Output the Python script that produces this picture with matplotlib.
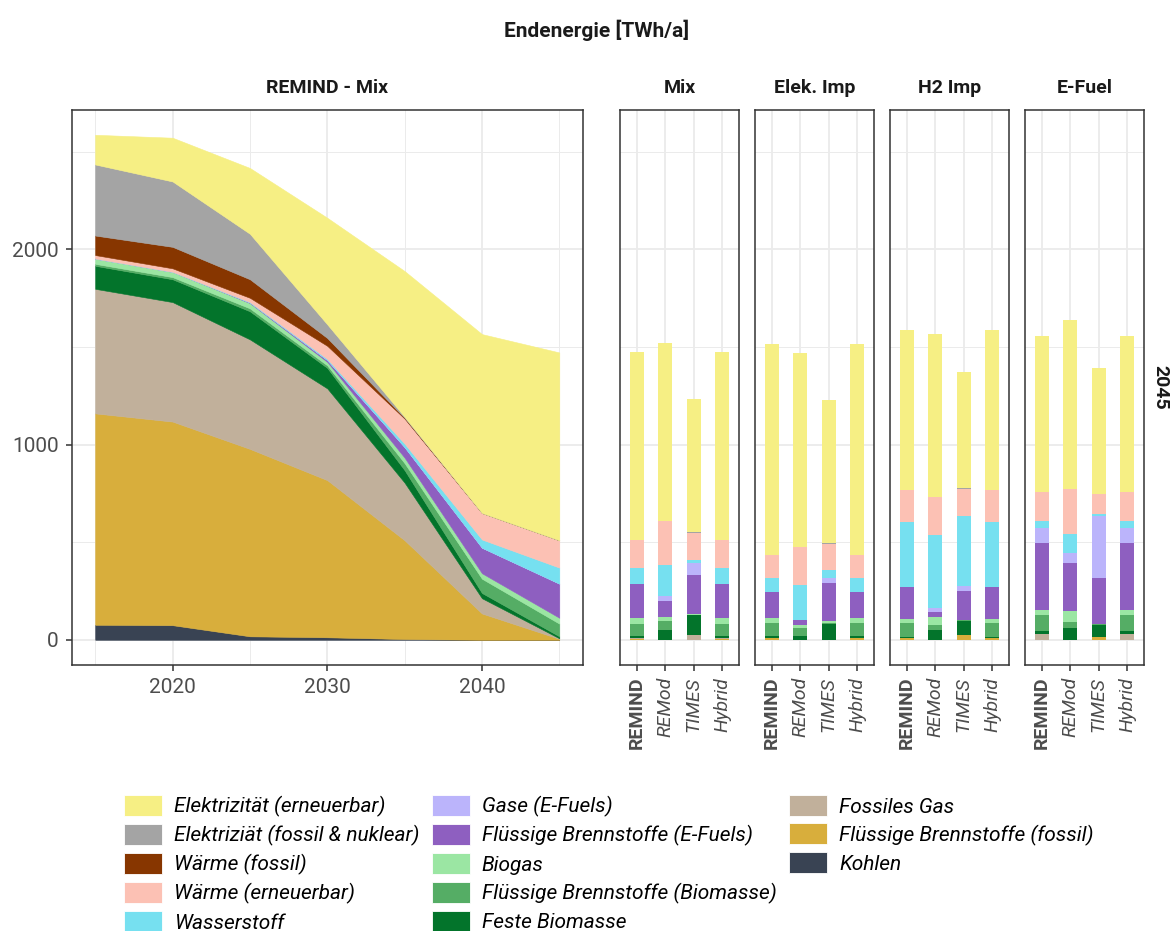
import matplotlib
matplotlib.use("Agg")
import matplotlib.pyplot as plt
from matplotlib.patches import Patch
from matplotlib.ticker import FixedLocator

plt.rcParams['font.family'] = ['Roboto', 'DejaVu Sans']

# -----------------------------
# Data
# -----------------------------
years = [2015, 2020, 2025, 2030, 2035, 2040, 2045]

# categories from bottom of the stack to the top
categories = [
    "Kohlen",
    "Flüssige Brennstoffe (fossil)",
    "Fossiles Gas",
    "Feste Biomasse",
    "Flüssige Brennstoffe (Biomasse)",
    "Biogas",
    "Flüssige Brennstoffe (E-Fuels)",
    "Gase (E-Fuels)",
    "Wasserstoff",
    "Wärme (erneuerbar)",
    "Wärme (fossil)",
    "Elektriziät (fossil & nuklear)",
    "Elektrizität (erneuerbar)",
]

colors = [
    "#394353", "#D8AE3C", "#C1B09B", "#03742B", "#55AD65", "#9BE6A3",
    "#8E5FC0", "#BBB4FB", "#76E0F0", "#FCC1B4", "#873600", "#A4A4A4",
    "#F6EF84",
]

# REMIND - Mix time series [TWh/a]
kohlen = [77, 75, 18, 13, 4, 0, 0]
fluessig_fossil = [1083, 1043, 960, 805, 506, 135, 5]
fossiles_gas = [638, 612, 561, 470, 295, 78, 3]
feste_biomasse = [118, 117, 144, 105, 64, 27, 10]
fluessig_biomasse = [10, 11, 15, 13, 36, 73, 65]
biogas = [27, 27, 27, 18, 28, 28, 30]
fluessig_efuels = [0, 0, 3, 9, 54, 131, 175]
gase_efuels = [0, 0, 0, 0, 0, 0, 0]
wasserstoff = [0, 0, 2, 6, 18, 42, 82]
waerme_erneuerbar = [18, 18, 22, 67, 128, 136, 140]
waerme_fossil = [100, 110, 95, 40, 4, 0, 0]
elek_fossil = [364, 335, 233, 70, 5, 0, 0]
elek_erneuerbar = [152, 224, 337, 546, 747, 916, 962]

# 2045 comparison, rows follow `categories`, columns follow `models`
models = ["REMIND", "REMod", "TIMES", "Hybrid"]
scenarios = ["Mix", "Elek. Imp", "H2 Imp", "E-Fuel"]

bars_mix = [
    [0, 0, 0, 0],
    [5, 0, 0, 5],
    [3, 0, 27, 3],
    [10, 48, 99, 10],
    [65, 46, 0, 65],
    [30, 22, 5, 30],
    [175, 85, 199, 175],
    [0, 25, 63, 0],
    [82, 158, 15, 82],
    [140, 225, 141, 140],
    [0, 0, 0, 0],
    [0, 0, 4, 0],
    [962, 911, 683, 962],
]

bars_elek_imp = [
    [0, 0, 0, 0],
    [10, 0, 0, 10],
    [0, 0, 0, 0],
    [7, 19, 80, 7],
    [70, 39, 8, 70],
    [24, 20, 6, 24],
    [136, 21, 199, 136],
    [0, 5, 22, 0],
    [68, 178, 42, 68],
    [120, 191, 136, 120],
    [0, 0, 0, 0],
    [0, 0, 4, 0],
    [1082, 995, 729, 1082],
]

bars_h2_imp = [
    [0, 0, 0, 0],
    [8, 0, 27, 8],
    [0, 0, 0, 0],
    [8, 49, 67, 8],
    [68, 29, 8, 68],
    [24, 38, 0, 24],
    [161, 25, 146, 161],
    [0, 22, 29, 0],
    [332, 374, 357, 332],
    [167, 196, 140, 167],
    [0, 0, 0, 0],
    [0, 0, 5, 0],
    [820, 835, 595, 820],
]

bars_efuel = [
    [0, 0, 0, 0],
    [0, 0, 12, 0],
    [30, 0, 0, 30],
    [17, 61, 62, 17],
    [81, 29, 8, 81],
    [25, 56, 0, 25],
    [345, 247, 235, 345],
    [75, 54, 316, 75],
    [34, 96, 12, 34],
    [150, 231, 104, 150],
    [0, 0, 0, 0],
    [0, 0, 0, 0],
    [799, 865, 642, 799],
]

area_layers = [
    kohlen, fluessig_fossil, fossiles_gas, feste_biomasse,
    fluessig_biomasse, biogas, fluessig_efuels, gase_efuels,
    wasserstoff, waerme_erneuerbar, waerme_fossil, elek_fossil,
    elek_erneuerbar,
]
bar_tables = [bars_mix, bars_elek_imp, bars_h2_imp, bars_efuel]

# -----------------------------
# Layout
# -----------------------------
W, H = 1175, 931
ylim = (-129, 2714)
grid_col = "#EBEBEB"
frame_col = "#333333"
tick_col = "#4D4D4D"
strip_size = 14


def px_box(x0, x1, y0=110, y1=665):
    return [x0 / W, 1 - y1 / H, (x1 - x0) / W, (y1 - y0) / H]


def style_panel(ax):
    ax.set_ylim(*ylim)
    ax.set_axisbelow(True)
    ax.yaxis.set_major_locator(FixedLocator([0, 1000, 2000]))
    ax.yaxis.set_minor_locator(FixedLocator([500, 1500, 2500]))
    ax.grid(which="major", color=grid_col, linewidth=1.3)
    ax.grid(which="minor", color=grid_col, linewidth=0.7)
    for s in ax.spines.values():
        s.set_color(frame_col)
        s.set_linewidth(1.1)
    ax.tick_params(which="major", length=4.5, width=1.1, color=frame_col,
                   labelcolor=tick_col, labelsize=15, pad=5)
    ax.tick_params(which="minor", length=0)


fig = plt.figure(figsize=(W / 100, H / 100), dpi=100)

# -----------------------------
# REMIND - Mix area chart
# -----------------------------
ax = fig.add_axes(px_box(72, 582.5))
polys = ax.stackplot(years, *area_layers, colors=colors)
for p, c in zip(polys, colors):
    p.set_edgecolor(c)
    p.set_linewidth(0.4)
ax.set_xlim(2013.5, 2046.5)
ax.xaxis.set_major_locator(FixedLocator([2020, 2030, 2040]))
ax.xaxis.set_minor_locator(FixedLocator([2015, 2025, 2035, 2045]))
style_panel(ax)
ax.text(0.5, 1 + 22 / 555, "REMIND - Mix", transform=ax.transAxes,
        ha="center", va="center", fontsize=strip_size, fontweight="bold",
        color="#1A1A1A")

# -----------------------------
# 2045 bars per scenario
# -----------------------------
panel_x = [620, 755, 890, 1025]
xpos = list(range(len(models)))
for x0, scen, table in zip(panel_x, scenarios, bar_tables):
    ax = fig.add_axes(px_box(x0, x0 + 119))
    bottom = [0] * len(models)
    for row, c in zip(table, colors):
        ax.bar(xpos, row, bottom=bottom, width=0.5, color=c, linewidth=0)
        bottom = [b + v for b, v in zip(bottom, row)]
    ax.set_xlim(-0.6, len(models) - 0.4)
    ax.set_xticks(xpos)
    ax.set_xticklabels(models, rotation=90, ha="center", va="top")
    for lab in ax.get_xticklabels():
        if lab.get_text() == "REMIND":
            lab.set_fontweight("bold")
        else:
            lab.set_fontstyle("italic")
    style_panel(ax)
    ax.tick_params(axis="x", labelsize=14, pad=4)
    ax.tick_params(axis="y", which="both", length=0, labelleft=False)
    ax.text(0.5, 1 + 22 / 555, scen, transform=ax.transAxes,
            ha="center", va="center", fontsize=strip_size, fontweight="bold",
            color="#1A1A1A")

fig.text(1160 / W, 1 - 387 / H, "2045", rotation=-90, ha="center",
         va="center", fontsize=strip_size, fontweight="bold", color="#1A1A1A")

fig.text(597 / W, 1 - 30 / H, "Endenergie [TWh/a]", ha="center",
         va="center", fontsize=15, fontweight="bold", color="#1A1A1A")

# -----------------------------
# Legend (two blank slots so the columns split 5 / 5 / 3)
# -----------------------------
handles = [Patch(facecolor=c, edgecolor="white", linewidth=0.6)
           for c in colors[::-1]]
labels = categories[::-1]
handles += [Patch(facecolor="none", edgecolor="none")] * 2
labels += [" ", " "]
fig.legend(
    handles, labels,
    ncol=3,
    loc="upper left",
    bbox_to_anchor=(124 / W, 1 - 795 / H),
    frameon=False,
    prop={"size": 15, "style": "italic"},
    handlelength=1.83,
    handleheight=1.17,
    handletextpad=0.57,
    labelspacing=0.33,
    columnspacing=0.6,
    borderpad=0,
    borderaxespad=0,
)

plt.savefig("out.png", dpi=100)
